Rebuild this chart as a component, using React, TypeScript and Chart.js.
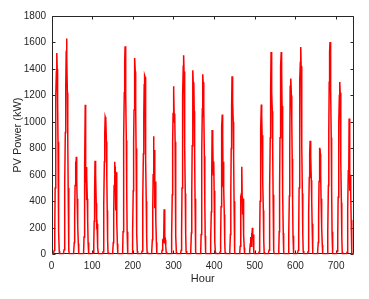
import React, { useEffect, useRef } from "react";
import { Chart, registerables } from "chart.js";

Chart.register(...registerables);

// Hourly PV power (kW), one array of 24 hourly values per day (31 days = 744 hours)
const day01 = [0,0,0,0,0,0,30,180,500,880,1200,1380,1520,1400,1150,850,480,170,25,0,0,0,0,0];
const day02 = [0,0,0,0,0,0,35,200,540,920,1260,1500,1630,1480,1220,880,500,190,30,0,0,0,0,0];
const day03 = [0,0,0,0,0,0,15,90,300,520,700,620,737,560,420,220,210,80,10,0,0,0,0,0];
const day04 = [0,0,0,0,0,0,20,130,400,670,1130,540,660,410,600,420,250,90,10,0,0,0,0,0];
const day05 = [0,0,0,0,0,0,15,80,250,450,706,450,600,385,220,230,60,50,10,0,0,0,0,0];
const day06 = [0,0,0,0,0,0,20,120,380,700,920,1038,1020,1025,850,600,330,110,15,0,0,0,0,0];
const day07 = [0,0,0,0,0,0,15,90,310,520,699,600,623,330,620,430,250,80,10,0,0,0,0,0];
const day08 = [0,0,0,0,0,0,30,170,500,880,1220,1450,1571,1460,1200,860,480,170,25,0,0,0,0,0];
const day09 = [0,0,0,0,0,0,30,170,480,850,1090,1400,1483,1380,1130,800,450,160,25,0,0,0,0,0];
const day10 = [0,0,0,0,0,0,25,150,430,760,1050,1280,1350,1340,1050,720,400,140,20,0,0,0,0,0];
const day11 = [0,0,0,0,0,0,20,110,340,600,892,700,787,347,550,420,260,90,10,0,0,0,0,0];
const day12 = [0,0,0,0,0,0,5,30,80,100,90,110,340,120,100,110,60,20,0,0,0,0,0,0];
const day13 = [0,0,0,0,0,0,25,150,450,850,1063,1270,1240,1000,1063,850,420,140,20,0,0,0,0,0];
const day14 = [0,0,0,0,0,0,30,170,500,900,1200,1420,1503,1380,1150,820,460,160,25,0,0,0,0,0];
const day15 = [0,0,0,0,0,0,25,160,470,820,1150,1390,1265,1300,1080,760,420,150,20,0,0,0,0,0];
const day16 = [0,0,0,0,0,0,25,150,440,780,1100,1360,1300,1038,1100,740,400,140,20,0,0,0,0,0];
const day17 = [0,0,0,0,0,0,20,110,320,586,938,800,837,600,700,480,280,100,15,0,0,0,0,0];
const day18 = [0,0,0,0,0,0,20,120,360,650,963,1056,900,520,700,500,300,100,15,0,0,0,0,0];
const day19 = [0,0,0,0,0,0,25,150,450,800,1114,1345,1300,1150,1000,720,400,140,20,0,0,0,0,0];
const day20 = [0,0,0,0,0,0,10,60,200,420,400,661,430,300,420,250,150,50,5,0,0,0,0,0];
const day21 = [0,0,0,0,0,0,5,30,80,130,60,160,100,200,120,150,60,20,0,0,0,0,0,0];
const day22 = [0,0,0,0,0,0,20,120,400,762,950,1131,1050,900,780,550,330,110,15,0,0,0,0,0];
const day23 = [0,0,0,0,0,0,30,170,500,880,1250,1528,1450,1230,1080,800,450,160,25,0,0,0,0,0];
const day24 = [0,0,0,0,0,0,30,170,500,880,1200,1420,1528,1400,1120,820,460,160,25,0,0,0,0,0];
const day25 = [0,0,0,0,0,0,25,150,440,800,1270,1280,1327,1200,1000,720,400,140,20,0,0,0,0,0];
const day26 = [0,0,0,0,0,0,30,170,500,900,1314,1450,1566,1420,1150,820,460,160,25,0,0,0,0,0];
const day27 = [0,0,0,0,0,0,20,100,320,580,762,857,780,736,560,400,230,80,10,0,0,0,0,0];
const day28 = [0,0,0,0,0,0,15,90,300,550,804,741,760,600,420,236,200,70,10,0,0,0,0,0];
const day29 = [0,0,0,0,0,0,30,180,520,920,1300,1530,1604,1560,1250,880,490,170,25,0,0,0,0,0];
const day30 = [0,0,0,0,0,0,25,140,430,760,988,1200,1302,1220,1000,700,390,130,20,0,0,0,0,0];
const day31 = [0,0,0,0,0,0,15,100,340,636,560,1026,620,480,600,450,260,90,10,0,0,0,0,0];

const days = [
  day01, day02, day03, day04, day05, day06, day07, day08, day09, day10,
  day11, day12, day13, day14, day15, day16, day17, day18, day19, day20,
  day21, day22, day23, day24, day25, day26, day27, day28, day29, day30, day31,
];

const xTicks = [0, 100, 200, 300, 400, 500, 600, 700];
const yTicks = [0, 200, 400, 600, 800, 1000, 1200, 1400, 1600, 1800];
const xMax = 744;
const yMax = 1800;

const AXIS_COLOR = "#262626";
const FONT = "'Liberation Sans', Arial, Helvetica, sans-serif";

const boxPlugin = {
  id: "matlabBox",
  beforeDatasetsDraw(chart: any) {
    const { ctx, chartArea } = chart;
    const { left, right, top, bottom } = chartArea;
    const xs = chart.scales.x;
    const ys = chart.scales.y;
    const tl = 3;
    ctx.save();
    ctx.strokeStyle = AXIS_COLOR;
    ctx.lineWidth = 1;
    const L = Math.round(left) + 0.5;
    const R = Math.round(right) - 0.5;
    const T = Math.round(top) + 0.5;
    const B = Math.round(bottom) - 0.5;
    ctx.beginPath();
    ctx.rect(L, T, R - L, B - T);
    for (const v of xTicks) {
      const px = Math.round(xs.getPixelForValue(v)) + 0.5;
      ctx.moveTo(px, B);
      ctx.lineTo(px, B - tl);
      ctx.moveTo(px, T);
      ctx.lineTo(px, T + tl);
    }
    for (const v of yTicks) {
      const py = Math.round(ys.getPixelForValue(v)) + 0.5;
      ctx.moveTo(L, py);
      ctx.lineTo(L + tl, py);
      ctx.moveTo(R, py);
      ctx.lineTo(R - tl, py);
    }
    ctx.stroke();
    ctx.restore();
  },
};

export default function App() {
  const ref = useRef<HTMLCanvasElement | null>(null);

  useEffect(() => {
    if (!ref.current) return;
    const points: { x: number; y: number }[] = [];
    days.forEach((d, di) => {
      d.forEach((v, h) => {
        points.push({ x: di * 24 + h + 1, y: v });
      });
    });

    const chart = new Chart(ref.current, {
      type: "line",
      data: {
        datasets: [
          {
            data: points,
            borderColor: "rgb(255,0,0)",
            borderWidth: 1.5,
            pointRadius: 0,
            tension: 0,
            fill: false,
          },
        ],
      },
      options: {
        animation: false,
        responsive: false,
        devicePixelRatio: 1,
        layout: { padding: { left: 0, right: 15, top: 16, bottom: 0 } },
        plugins: {
          legend: { display: false },
          tooltip: { enabled: false },
        },
        scales: {
          x: {
            type: "linear",
            min: 0,
            max: xMax,
            grid: { display: false, drawTicks: false },
            border: { display: false },
            afterBuildTicks: (s: any) => {
              s.ticks = xTicks.map((v) => ({ value: v }));
            },
            afterFit: (s: any) => {
              s.height = 44.7;
            },
            ticks: {
              font: { family: FONT, size: 10 },
              color: AXIS_COLOR,
              padding: 6,
              maxRotation: 0,
              autoSkip: false,
              callback: (v: any) => String(v),
            },
            title: {
              display: true,
              text: "Hour",
              font: { family: FONT, size: 11 },
              color: AXIS_COLOR,
              padding: { top: 0, bottom: 13 },
            },
          },
          y: {
            type: "linear",
            min: 0,
            max: yMax,
            grid: { display: false, drawTicks: false },
            border: { display: false },
            afterBuildTicks: (s: any) => {
              s.ticks = yTicks.map((v) => ({ value: v }));
            },
            afterFit: (s: any) => {
              s.width = 51.5;
            },
            ticks: {
              font: { family: FONT, size: 10 },
              color: AXIS_COLOR,
              padding: 5.5,
              autoSkip: false,
              callback: (v: any) => String(v),
            },
            title: {
              display: true,
              text: "PV Power (kW)",
              font: { family: FONT, size: 11 },
              color: AXIS_COLOR,
              padding: { top: 11, bottom: 0 },
            },
          },
        },
      },
      plugins: [boxPlugin],
    });
    return () => chart.destroy();
  }, []);

  return (
    <div style={{ position: "absolute", left: 0, top: 0, width: 369, height: 299, background: "#fff" }}>
      <canvas ref={ref} width={369} height={299} style={{ display: "block", width: 369, height: 299 }} />
    </div>
  );
}
